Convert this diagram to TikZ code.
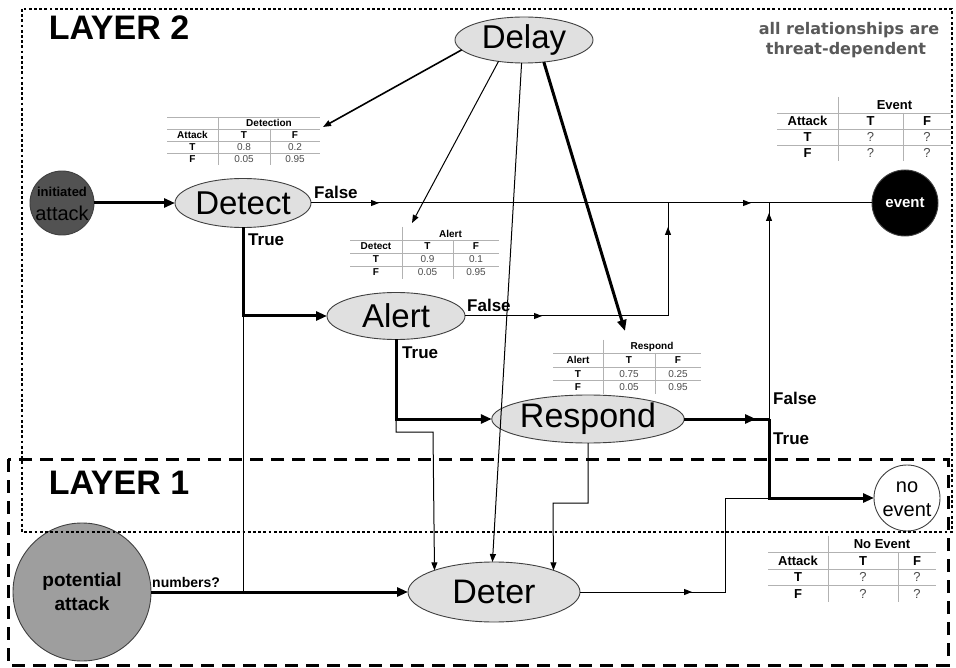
\documentclass[tikz,border=0pt]{standalone}
\usepackage{fontspec}
\setmainfont{Liberation Sans}
\newfontfamily\dvs{DejaVu Sans}
\usetikzlibrary{arrows.meta,shapes.geometric,decorations.markings}

\newcommand\fsz[1]{\fontsize{#1}{#1}\selectfont}

% probability table: #1 name prefix, #2 header, #3 row label, #4..#7 values
\newcommand\ptab[7]{%
  \draw[tabline] (0,\trh) -- ({\tca+\tcb+\tcc},\trh);
  \draw[tabline] (0,{2*\trh}) -- ({\tca+\tcb+\tcc},{2*\trh});
  \draw[tabline] (0,{3*\trh}) -- ({\tca+\tcb+\tcc},{3*\trh});
  \draw[tabline] (\tca,0) -- (\tca,{4*\trh});
  \draw[tabline] ({\tca+\tcb},\trh) -- ({\tca+\tcb},{4*\trh});
  \node[tabtxt,font=\tabfont\bfseries] (#1-h) at ({\tca+(\tcb+\tcc)/2},{0.5*\trh}) {#2};
  \node[tabtxt,font=\tabfont\bfseries] (#1-l) at ({\tca/2},{1.5*\trh}) {#3};
  \node[tabtxt,font=\tabfont\bfseries] (#1-t) at ({\tca+\tcb/2},{1.5*\trh}) {T};
  \node[tabtxt,font=\tabfont\bfseries] (#1-f) at ({\tca+\tcb+\tcc/2},{1.5*\trh}) {F};
  \node[tabtxt,font=\tabfont\bfseries] (#1-r1) at ({\tca/2},{2.5*\trh}) {T};
  \node[tabtxt,font=\tabfont\bfseries] (#1-r2) at ({\tca/2},{3.5*\trh}) {F};
  \node[tabval,font=\tabfont] (#1-a) at ({\tca+\tcb/2},{2.5*\trh}) {#4};
  \node[tabval,font=\tabfont] (#1-b) at ({\tca+\tcb+\tcc/2},{2.5*\trh}) {#5};
  \node[tabval,font=\tabfont] (#1-c) at ({\tca+\tcb/2},{3.5*\trh}) {#6};
  \node[tabval,font=\tabfont] (#1-d) at ({\tca+\tcb+\tcc/2},{3.5*\trh}) {#7};
}

\begin{document}
\begin{tikzpicture}[x=1pt,y=-1pt,
  ell/.style={ellipse,draw=black!75,line width=0.9pt,fill=black!12,inner sep=0pt,outer sep=0pt},
  circ/.style={circle,draw=black!75,line width=0.9pt,inner sep=0pt,outer sep=0pt},
  tabline/.style={draw=black!30,line width=0.6pt},
  tabtxt/.style={inner sep=0pt,text=black},
  tabval/.style={inner sep=0pt,text=black!70},
  lbl/.style={inner sep=0pt,font=\fsz{17}\bfseries},
  thinl/.style={line width=1pt},
  thickl/.style={line width=3pt},
  tipthin/.style={-{Triangle[length=8pt,width=6pt]}},
  tipthick/.style={-{Triangle[length=11pt,width=9pt]}},
  midtip/.style={postaction={decorate,decoration={markings,mark=at position #1 with {\arrow{Triangle[length=8pt,width=6pt]}}}}},
  layertwo/.style={line width=2.8pt,dash pattern=on 2.8pt off 2.4pt},
  layerone/.style={line width=3pt,dash pattern=on 13pt off 8pt}
]
\useasboundingbox (0,0) rectangle (956,668);
\fill[white] (0,0) rectangle (956,668);

% ---------- nodes ----------
\node[ell,minimum width=138pt,minimum height=46pt,font=\fsz{33}] (Delay) at (524,40) {Delay};
\node[ell,minimum width=136pt,minimum height=49pt,font=\fsz{33}] (Detect) at (243,203) {Detect};
\node[ell,minimum width=138pt,minimum height=47pt,font=\fsz{33}] (Alert) at (396,316) {Alert};
\node[ell,minimum width=152pt,minimum height=48pt,font=\fsz{34}] (Respond) at (588,419) {Respond};
\node[ell,minimum width=172pt,minimum height=60pt,font=\fsz{34}] (Deter) at (494,592) {Deter};

\node[circ,fill=black!68,minimum size=64pt] (init) at (62,203) {};
\node[inner sep=0pt,font=\fsz{13}\bfseries] (initA) at (62,192) {initiated};
\node[inner sep=0pt,font=\fsz{20}] (initB) at (62,213) {attack};

\node[circ,fill=black,minimum size=66pt,font=\fsz{15}\bfseries,text=white] (event) at (905,203) {event};
\node[circ,fill=white,minimum size=66pt] (noevent) at (907,498) {};
\node[inner sep=0pt,font=\fsz{20}] (noeA) at (907,487) {no};
\node[inner sep=0pt,font=\fsz{20}] (noeB) at (907,510) {event};
\node[circ,fill=black!38,minimum size=138pt] (pot) at (82,592) {};
\node[inner sep=0pt,font=\fsz{19}\bfseries] (potA) at (82,582) {potential};
\node[inner sep=0pt,font=\fsz{19}\bfseries] (potB) at (82,604) {attack};

% ---------- titles ----------
\node[inner sep=0pt,font=\fsz{34}\bfseries] (L2) at (119,28) {LAYER 2};
\node[inner sep=0pt,font=\fsz{34}\bfseries] (L1) at (119,483) {LAYER 1};
\node[inner sep=0pt,font=\dvs\fsz{16}\bfseries,text=black!65] (note1) at (849,30) {all relationships are};
\node[inner sep=0pt,font=\dvs\fsz{16}\bfseries,text=black!65] (note2) at (846,50) {threat-dependent};

% ---------- tables ----------
\def\tabfont{\fsz{10}}
\begin{scope}[shift={(167,117)}]
  \def\tca{51}\def\tcb{52}\def\tcc{50}\def\trh{12}
  \draw[tabline] (0,0) -- ({\tca+\tcb+\tcc},0);
  \ptab{tD}{Detection}{Attack}{0.8}{0.2}{0.05}{0.95}
\end{scope}
\begin{scope}[shift={(350,227)}]
  \def\tca{52}\def\tcb{51}\def\tcc{46}\def\trh{13}
  \ptab{tA}{Alert}{Detect}{0.9}{0.1}{0.05}{0.95}
\end{scope}
\begin{scope}[shift={(553,340)}]
  \def\tca{50}\def\tcb{52}\def\tcc{46}\def\trh{13.5}
  \ptab{tR}{Respond}{Alert}{0.75}{0.25}{0.05}{0.95}
\end{scope}
\def\tabfont{\fsz{13}}
\begin{scope}[shift={(777,97)}]
  \def\tca{61}\def\tcb{65}\def\tcc{48}\def\trh{16}
  \ptab{tE}{Event}{Attack}{?}{?}{?}{?}
\end{scope}
\begin{scope}[shift={(768,536)}]
  \def\tca{60}\def\tcb{70}\def\tcc{38}\def\trh{16.5}
  \ptab{tN}{No Event}{Attack}{?}{?}{?}{?}
\end{scope}

% ---------- junction coordinates ----------
\coordinate (jA) at (668,203);
\coordinate (jB) at (769,203);
\coordinate (jR) at (769,419);
\coordinate (jS) at (243,316);
\coordinate (jT) at (396,419);
\coordinate (jP) at (243,592);
\coordinate (jD) at (769,498);
\coordinate (aD) at (323,127);
\coordinate (aA) at (412,223);
\coordinate (aR) at (625,331);
\coordinate (aM) at (756,419);

% ---------- connectors ----------
\draw[thickl,tipthick] (init) -- (Detect);
\draw[thinl,midtip=68pt,midtip=440pt] (Detect.east) -- (event.west);
\node[lbl,anchor=west] (fD) at (314,192) {False};
\draw[thickl,tipthick] (Detect.south) -- (jS) -- (Alert.west);
\node[lbl,anchor=west] (tDl) at (248,240) {True};
\draw[thinl] (jS) -- (jP);
\draw[thinl,midtip=77pt,midtip=292pt] (Alert.east) -- (jA |- Alert.east) -- (jA);
\node[lbl,anchor=west] (fA) at (467,305) {False};
\draw[thickl,tipthick] (Alert.south) -- (jT) -- (Respond.west);
\node[lbl,anchor=west] (tAl) at (402,353) {True};
\draw[thinl,tipthin] (jT) -- (396,432) -- (433,432) -- (Deter.160.9);
\draw[thinl,tipthin] (Respond.south) -- (588,503) -- (553,503) -- (Deter.20.3);
\draw[thickl] (Respond.east) -- (jR);
\draw[thickl,tipthick] (Respond.east) -- (aM);
\node[lbl,anchor=west] (fR) at (773,398) {False};
\node[lbl,anchor=west] (tR) at (773,439) {True};
\draw[thinl,midtip=206pt] (jR) -- (jB);
\draw[thickl,tipthick] (jR) |- (noevent.west);
\draw[thinl,midtip=112pt] (Deter.east) -- (725,592) -- (725,498) -- (jD);
\draw[thickl,tipthick] (pot) -- (Deter);
\node[inner sep=0pt,anchor=west,font=\fsz{14}\bfseries] (num) at (152,582) {numbers?};

\draw[line width=1.6pt,tipthin] (Delay.189) -- (aD);
\draw[thinl,tipthin] (Delay.220) -- (aA);
\draw[thinl,tipthin] (Delay.264) -- (Deter.93);
\draw[thickl,tipthick] (Delay.312) -- (aR);

% ---------- layers ----------
\draw[layertwo] (22,9) rectangle (952,532);
\draw[layerone] (8,459) rectangle (948,665);
\end{tikzpicture}
\end{document}
